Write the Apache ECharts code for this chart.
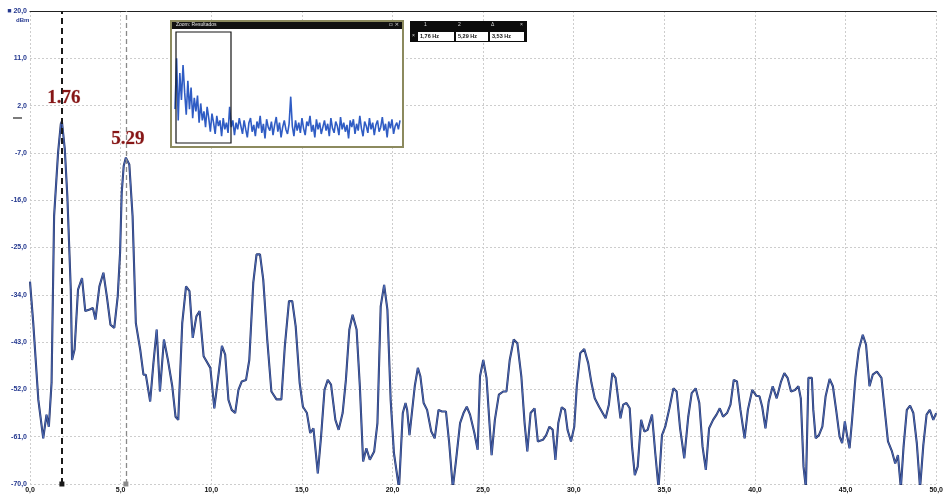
<!DOCTYPE html>
<html>
<head>
<meta charset="utf-8">
<script src="https://cdn.jsdelivr.net/npm/echarts@6/dist/echarts.min.js"></script>
<style>
  html, body { margin: 0; padding: 0; background: #ffffff; }
  #chart { width: 946px; height: 494px; }
</style>
</head>
<body>
<div id="chart"></div>
<script>
// Spectrum trace: frequency (Hz) and level (dBm)
const freqHz = [
  0.00, 0.18, 0.46, 0.73, 0.91, 1.04, 1.19, 1.33, 1.55, 1.70, 1.76, 1.92, 2.06, 2.25, 2.32, 2.46, 2.65, 2.87,
  3.05, 3.29, 3.47, 3.61, 3.83, 4.05, 4.24, 4.44, 4.65, 4.84, 4.97, 5.06, 5.17, 5.29, 5.48, 5.66, 5.84,
  6.08, 6.26, 6.39, 6.63, 6.81, 6.99, 7.17, 7.39, 7.61, 7.85, 8.03, 8.18, 8.40, 8.61, 8.80, 8.98, 9.18,
  9.36, 9.58, 9.95, 10.17, 10.41, 10.59, 10.77, 10.95, 11.13, 11.32, 11.50, 11.68, 11.92, 12.10, 12.32,
  12.50, 12.69, 12.87, 13.09, 13.32, 13.60, 13.87, 14.06, 14.29, 14.47, 14.66, 14.88, 15.06, 15.28, 15.46,
  15.64, 15.88, 16.06, 16.25, 16.43, 16.61, 16.85, 17.03, 17.25, 17.43, 17.62, 17.80, 18.02, 18.20, 18.38,
  18.56, 18.75, 18.99, 19.17, 19.35, 19.54, 19.72, 19.90, 20.08, 20.36, 20.57, 20.72, 20.81, 20.94, 21.08,
  21.23, 21.40, 21.54, 21.72, 21.91, 22.14, 22.33, 22.54, 22.73, 22.95, 23.13, 23.33, 23.51, 23.73, 23.92,
  24.10, 24.28, 24.52, 24.70, 24.83, 25.01, 25.19, 25.34, 25.47, 25.65, 25.87, 26.11, 26.29, 26.47, 26.69,
  26.89, 27.11, 27.29, 27.44, 27.62, 27.84, 28.02, 28.30, 28.48, 28.66, 28.84, 28.99, 29.15, 29.34, 29.52,
  29.66, 29.85, 30.03, 30.17, 30.36, 30.58, 30.80, 30.98, 31.16, 31.40, 31.76, 31.94, 32.13, 32.31, 32.44,
  32.58, 32.73, 32.91, 33.09, 33.22, 33.37, 33.53, 33.72, 33.90, 34.08, 34.32, 34.50, 34.68, 34.87, 35.05,
  35.28, 35.50, 35.68, 35.87, 36.10, 36.32, 36.51, 36.73, 36.93, 37.11, 37.29, 37.47, 37.69, 37.88, 38.06,
  38.24, 38.46, 38.65, 38.83, 39.01, 39.20, 39.43, 39.61, 39.85, 40.07, 40.25, 40.40, 40.58, 40.76, 40.98,
  41.20, 41.44, 41.62, 41.80, 41.99, 42.21, 42.40, 42.53, 42.68, 42.81, 42.95, 43.14, 43.22, 43.35, 43.53,
  43.72, 43.90, 44.12, 44.30, 44.48, 44.67, 44.81, 44.96, 45.08, 45.22, 45.36, 45.55, 45.73, 45.95, 46.13,
  46.32, 46.50, 46.73, 46.98, 47.16, 47.34, 47.56, 47.74, 47.89, 48.05, 48.20, 48.38, 48.56, 48.74, 48.93,
  49.11, 49.29, 49.47, 49.65, 49.84, 50.00
];
const levelDbm = [
  -31.5, -39.4, -54.0, -61.3, -56.8, -59.1, -50.7, -19.0, -6.9, -1.5, -1.0, -6.3, -15.2, -33.0, -46.4, -44.4, -33.0, -30.8,
  -37.1, -36.8, -36.5, -38.7, -32.4, -29.8, -34.3, -39.7, -40.3, -34.3, -26.0, -14.6, -9.5, -7.9, -9.2, -19.0, -39.4,
  -44.4, -49.2, -49.2, -54.3, -47.0, -40.6, -52.4, -42.5, -46.4, -51.4, -57.2, -57.8, -39.4, -32.4, -33.3, -42.2, -38.1,
  -37.1, -45.7, -47.9, -55.6, -48.9, -43.7, -45.4, -54.0, -55.9, -56.5, -52.1, -50.5, -50.2, -46.4, -31.7,
  -26.3, -26.3, -31.1, -42.5, -52.4, -53.9, -53.9, -43.8, -35.2, -35.2, -40.0, -50.8, -55.3, -56.5, -60.3,
  -59.4, -68.0, -61.0, -52.1, -50.2, -51.1, -57.8, -59.7, -56.5, -50.2, -40.6, -37.8, -40.6, -51.4, -65.7,
  -63.2, -65.4, -63.8, -58.4, -36.2, -32.1, -36.8, -54.0, -64.1, -70.8, -56.5, -54.6, -55.9, -60.7, -56.2,
  -51.4, -47.9, -49.5, -54.6, -55.9, -60.0, -61.3, -55.9, -56.2, -56.2, -62.2, -70.8, -65.4, -58.4, -56.5,
  -55.3, -56.8, -60.3, -63.5, -49.5, -46.4, -49.8, -57.8, -64.5, -57.8, -53.0, -52.4, -52.4, -46.4, -42.5,
  -43.2, -49.5, -58.4, -63.8, -56.5, -55.6, -61.9, -61.6, -60.7, -59.1, -59.7, -65.4, -58.4, -55.4, -55.9,
  -59.7, -61.9, -59.1, -51.4, -45.1, -44.3, -47.0, -50.8, -53.7, -55.3, -57.5, -54.9, -48.9, -49.8, -53.4,
  -57.5, -54.9, -54.6, -55.6, -62.9, -68.3, -66.7, -57.8, -60.0, -59.7, -56.8, -64.1, -70.8, -60.7, -59.1,
  -55.6, -51.8, -52.4, -59.4, -65.1, -57.2, -52.7, -51.8, -54.6, -62.9, -67.3, -59.4, -57.8, -56.8, -55.6,
  -57.2, -56.5, -54.9, -50.2, -50.5, -55.9, -61.3, -55.9, -52.1, -53.2, -53.3, -55.3, -59.4, -54.3, -51.4,
  -53.7, -50.5, -48.9, -49.8, -52.4, -52.1, -51.4, -53.7, -66.7, -70.8, -49.8, -49.8, -55.9, -61.3, -60.7,
  -59.1, -53.3, -50.0, -51.4, -55.9, -61.0, -62.2, -58.1, -60.7, -63.2, -57.8, -49.5, -44.4, -41.6, -43.5,
  -51.4, -49.2, -48.6, -49.8, -55.9, -61.9, -63.8, -66.1, -64.5, -70.8, -62.9, -55.9, -55.1, -56.5, -62.2,
  -70.8, -62.6, -56.8, -55.9, -57.8, -56.5
];

// Markers
const markerHz = [1.76, 5.29];
const markerText = ['1.76', '5.29'];

// Axis ticks
const xTicks = { min: 0, max: 50, step: 5 };
const yTicks = { min: -70, max: 20, step: 9 };

// Overview trace shown in the zoom window (relative level)
const overviewLevel = [
  30, 75, 20, 62, 38, 69, 45, 25, 55, 30, 49, 22, 40, 28, 42, 18,
  35, 20, 28, 14, 32, 22, 10, 26, 18, 8, 24, 15, 20, 6, 22, 12, 18, 9, 32, 14, 20, 7, 18, 12, 22,
  15, 8, 20, 12, 5, 18, 22, 10, 16, 6, 19, 13, 24, 9, 17, 4, 21, 14, 11, 19, 7, 16, 23, 10, 18, 5, 14, 20, 12, 8, 17,
  41, 15, 6, 20, 11, 18, 9, 22, 13, 7, 19, 15, 24, 10, 16, 5, 21, 12, 18, 8, 14, 20, 11, 17, 6, 22, 13, 9, 19, 15,
  7, 23, 12, 18, 10, 16, 4, 20, 14, 21, 8, 17, 11, 24, 13, 6, 19, 15, 9, 22, 12, 18, 7, 16, 20, 10, 14, 23, 11, 17,
  5, 19, 13, 21, 8, 15, 18, 12, 20
];

// Readout table
const readoutHead = ['1', '2', 'Δ'];
const readoutText = [
  markerHz[0].toFixed(2).replace('.', ',') + ' Hz',
  markerHz[1].toFixed(2).replace('.', ',') + ' Hz',
  (markerHz[1] - markerHz[0]).toFixed(2).replace('.', ',') + ' Hz'
];

const trace = freqHz.map((f, i) => [f, levelDbm[i]]);
const overview = overviewLevel.map((v, i) => [i, v]);
const levelAt = f => levelDbm[freqHz.indexOf(f)];

const comma = v => v.toFixed(1).replace('.', ',');
const labelColor = '#24388f';
const gridDots = { color: '#cdcdcd', type: [2, 2], width: 1 };
const markerFont = {
  show: true, color: '#861616', fontSize: 19, fontWeight: 'bold',
  fontFamily: 'Liberation Serif, DejaVu Serif, serif', position: 'inside',
  textBorderColor: 'rgba(134,22,22,0.35)', textBorderWidth: 0.6
};

const chart = echarts.init(document.getElementById('chart'), null, { renderer: 'canvas' });

chart.setOption({
  backgroundColor: '#ffffff',
  animation: false,
  grid: [
    { left: 30, right: 3, top: 11, bottom: 10 },
    { left: 175, top: 30, width: 225, height: 113 }
  ],
  xAxis: [
    {
      type: 'value', gridIndex: 0,
      min: xTicks.min, max: xTicks.max, interval: xTicks.step,
      axisLine: { show: false }, axisTick: { show: false },
      axisLabel: {
        formatter: v => comma(v), color: '#111', fontSize: 7, fontWeight: 'bold',
        fontFamily: 'Liberation Sans, Arial, sans-serif', margin: 3
      },
      splitLine: { show: true, lineStyle: gridDots }
    },
    {
      type: 'value', gridIndex: 0, position: 'top',
      min: xTicks.min, max: xTicks.max,
      axisLine: { show: true, lineStyle: { color: '#222', width: 1.2 } },
      axisTick: { show: false }, axisLabel: { show: false }, splitLine: { show: false }
    },
    {
      type: 'value', gridIndex: 1, min: 0, max: overviewLevel.length - 1, interval: 16,
      axisLine: { show: false }, axisTick: { show: false }, axisLabel: { show: false },
      splitLine: { show: true, lineStyle: { color: '#bdbdbd', type: [1, 2] } }
    }
  ],
  yAxis: [
    {
      type: 'value', gridIndex: 0,
      min: yTicks.min, max: yTicks.max, interval: yTicks.step,
      axisLine: { show: false }, axisTick: { show: false },
      axisLabel: {
        formatter: v => (v === yTicks.max ? '■ ' : '') + comma(v),
        color: labelColor, fontSize: 7, fontWeight: 'bold',
        fontFamily: 'Liberation Sans, Arial, sans-serif', margin: 3
      },
      splitLine: { show: true, lineStyle: gridDots }
    },
    {
      type: 'value', gridIndex: 1, min: 0, max: 100, interval: 20,
      axisLine: { show: false }, axisTick: { show: false }, axisLabel: { show: false },
      splitLine: { show: true, lineStyle: { color: '#bdbdbd', type: [1, 2] } }
    }
  ],
  series: [
    {
      name: 'trace-outline', type: 'line', xAxisIndex: 0, yAxisIndex: 0,
      data: trace, symbol: 'none', smooth: false, z: 3,
      lineStyle: { color: '#263366', width: 2.1 },
      markLine: {
        silent: true, symbol: ['rect', 'none'], symbolSize: 5,
        label: { show: false },
        data: [
          { xAxis: markerHz[0], lineStyle: { color: '#1a1a1a', width: 2, type: [6, 4] } },
          { xAxis: markerHz[1], lineStyle: { color: '#8a8a8a', width: 1.3, type: [5, 3] } }
        ]
      }
    },
    {
      name: 'trace', type: 'line', xAxisIndex: 0, yAxisIndex: 0,
      data: trace, symbol: 'none', z: 4,
      lineStyle: { color: '#5a7fd6', width: 0.7 },
      markPoint: {
        silent: true, symbol: 'circle', symbolSize: 0,
        itemStyle: { color: 'rgba(0,0,0,0)' },
        label: markerFont,
        data: [
          { coord: [markerHz[0], levelAt(markerHz[0])],
            label: Object.assign({}, markerFont, { formatter: markerText[0], offset: [2, -23] }) },
          { coord: [markerHz[1], levelAt(markerHz[1])],
            label: Object.assign({}, markerFont, { formatter: markerText[1], offset: [2, -19] }) }
        ]
      }
    },
    {
      name: 'overview', type: 'line', xAxisIndex: 2, yAxisIndex: 1,
      data: overview, symbol: 'none', z: 12,
      lineStyle: { color: '#2f5cc4', width: 1.6 }
    }
  ],
  graphic: [
    // y unit
    { type: 'text', left: 16, top: 17, z: 20,
      style: { text: 'dBm', fill: labelColor, fontSize: 6, fontWeight: 'bold', fontFamily: 'Liberation Sans, Arial' } },
    // reference level tick
    { type: 'line', z: 20, shape: { x1: 13, y1: 118, x2: 22, y2: 118 }, style: { stroke: '#222', lineWidth: 1.2 } },
    // zoom window frame
    { type: 'rect', z: 8, shape: { x: 171, y: 21, width: 232, height: 126 },
      style: { fill: '#ffffff', stroke: '#8c8a5e', lineWidth: 2 } },
    { type: 'rect', z: 9, shape: { x: 172, y: 22, width: 230, height: 7 }, style: { fill: '#111111' } },
    { type: 'text', z: 10, left: 176, top: 22.5,
      style: { text: 'Zoom: Resultados', fill: '#e8e8e8', fontSize: 5, fontFamily: 'Liberation Sans, Arial' } },
    { type: 'text', z: 10, left: 389, top: 22,
      style: { text: '▫ ×', fill: '#e8e8e8', fontSize: 5.5, fontFamily: 'DejaVu Sans' } },
    { type: 'rect', z: 13, shape: { x: 176, y: 32, width: 55, height: 111 },
      style: { fill: 'none', stroke: '#151515', lineWidth: 1.2 } },
    // marker readout
    { type: 'rect', z: 8, shape: { x: 410, y: 21, width: 117, height: 21 }, style: { fill: '#0c0c0c' } },
    { type: 'text', z: 10, left: 424, top: 22, style: { text: readoutHead[0], fill: '#dddddd', fontSize: 5 } },
    { type: 'text', z: 10, left: 458, top: 22, style: { text: readoutHead[1], fill: '#dddddd', fontSize: 5 } },
    { type: 'text', z: 10, left: 491, top: 22, style: { text: readoutHead[2], fill: '#dddddd', fontSize: 5 } },
    { type: 'text', z: 10, left: 520, top: 22, style: { text: '×', fill: '#dddddd', fontSize: 5 } },
    { type: 'text', z: 10, left: 412, top: 33, style: { text: '×', fill: '#dddddd', fontSize: 5 } },
    { type: 'rect', z: 9, shape: { x: 418, y: 32, width: 36, height: 9 }, style: { fill: '#ffffff' } },
    { type: 'rect', z: 9, shape: { x: 456, y: 32, width: 32, height: 9 }, style: { fill: '#ffffff' } },
    { type: 'rect', z: 9, shape: { x: 490, y: 32, width: 34, height: 9 }, style: { fill: '#ffffff' } },
    { type: 'text', z: 10, left: 420, top: 33.5,
      style: { text: readoutText[0], fill: '#111', fontSize: 5.5, fontWeight: 'bold', fontFamily: 'Liberation Sans, Arial' } },
    { type: 'text', z: 10, left: 458, top: 33.5,
      style: { text: readoutText[1], fill: '#111', fontSize: 5.5, fontWeight: 'bold', fontFamily: 'Liberation Sans, Arial' } },
    { type: 'text', z: 10, left: 492, top: 33.5,
      style: { text: readoutText[2], fill: '#111', fontSize: 5.5, fontWeight: 'bold', fontFamily: 'Liberation Sans, Arial' } }
  ]
});
</script>
</body>
</html>
